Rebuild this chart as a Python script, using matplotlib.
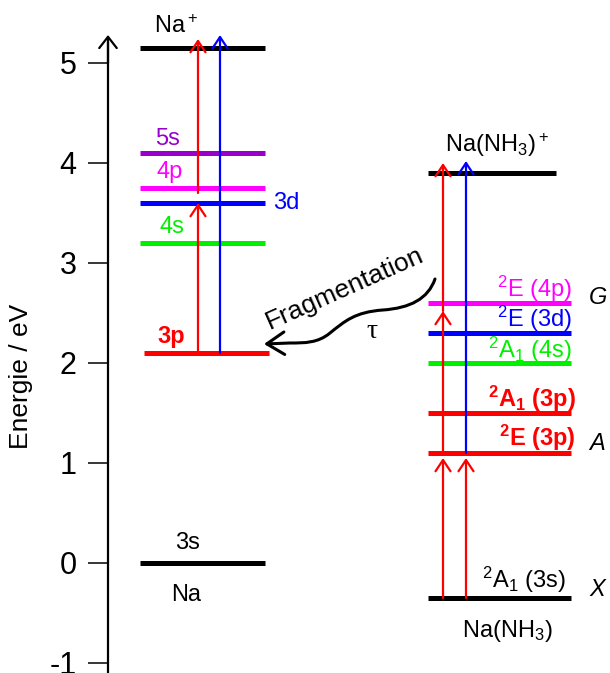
import matplotlib
matplotlib.use("Agg")
import matplotlib.pyplot as plt
from matplotlib.path import Path
from matplotlib.patches import FancyArrowPatch

plt.rcParams['font.family'] = ['Liberation Sans', 'DejaVu Sans']
plt.rcParams['mathtext.fontset'] = 'custom'
plt.rcParams['mathtext.rm'] = 'Liberation Sans'
plt.rcParams['mathtext.it'] = 'Liberation Sans:italic'
plt.rcParams['mathtext.bf'] = 'Liberation Sans:bold'

RED = '#FF0000'
BLUE = '#0000FF'
GREEN = '#00F000'
MAGENTA = '#FF00FF'
PURPLE = '#9900CC'

# Na atom levels (eV)
na_states = ['3s', '3p', '4s', '3d', '4p', '5s', 'Na+']
na_energy = [0.0, 2.10, 3.20, 3.60, 3.75, 4.10, 5.15]
na_colors = ['black', RED, GREEN, BLUE, MAGENTA, PURPLE, 'black']

# Na(NH3) complex levels (eV)
cx_states = ['2A1(3s)', '2E(3p)', '2A1(3p)', '2A1(4s)', '2E(3d)', '2E(4p)', 'Na(NH3)+']
cx_energy = [-0.35, 1.10, 1.50, 2.00, 2.30, 2.60, 3.90]
cx_colors = ['black', RED, RED, GREEN, BLUE, MAGENTA, 'black']

# excitation steps: start / end energy
na_step_from = [2.10, 3.70, 2.10]
na_step_to = [3.60, 5.24, 5.28]
na_step_col = [RED, RED, BLUE]

cx_step_from = [-0.35, -0.35, 1.10, 2.52, 1.10]
cx_step_to = [1.05, 1.05, 2.52, 4.00, 4.02]
cx_step_col = [RED, RED, RED, RED, BLUE]

yticks = [-1, 0, 1, 2, 3, 4, 5]

fig = plt.figure(figsize=(6.10, 6.73), dpi=100)
ax = fig.add_axes([108 / 610, 0, 502 / 610, 1])
ax.set_xlim(108, 610)
ax.set_ylim(-1.10, 5.63)

for s in ['top', 'right', 'bottom']:
    ax.spines[s].set_visible(False)
ax.spines['left'].set_linewidth(1.6)
ax.spines['left'].set_bounds(-1.10, 5.2)
ax.set_xticks([])
ax.set_yticks(yticks)
ax.set_yticklabels([str(t) for t in yticks])
ax.tick_params(axis='y', direction='out', length=14.5, width=1.1, pad=8,
               labelsize=22)
ax.annotate('', xy=(108, 5.28), xytext=(108, 5.0),
            arrowprops=dict(arrowstyle='->,head_length=0.45,head_width=0.35',
                            color='black', lw=1.6, shrinkA=0, shrinkB=0,
                            mutation_scale=18), annotation_clip=False)

ax.set_ylabel('Energie / eV', fontsize=19)
ax.yaxis.set_label_coords(33, 1.87, transform=ax.transData)

# level lines
for name, e, c in zip(na_states, na_energy, na_colors):
    x0, x1 = (144, 269) if name == '3p' else (140, 265)
    ax.plot([x0, x1], [e, e], color=c, lw=3.6, solid_capstyle='butt')
for name, e, c in zip(cx_states, cx_energy, cx_colors):
    x0, x1 = (428, 556) if name == 'Na(NH3)+' else (428, 571)
    ax.plot([x0, x1], [e, e], color=c, lw=3.6, solid_capstyle='butt')


def step(x, e0, e1, col):
    ax.annotate('', xy=(x, e1), xytext=(x, e0),
                arrowprops=dict(arrowstyle='->,head_length=0.45,head_width=0.3',
                                color=col, lw=1.6, shrinkA=0, shrinkB=0,
                                mutation_scale=18))


for x, a, b, c in zip([198, 198, 220], na_step_from, na_step_to, na_step_col):
    step(x, a, b, c)
for x, a, b, c in zip([443, 466, 443, 443, 466], cx_step_from, cx_step_to,
                      cx_step_col):
    step(x, a, b, c)

# Na labels
fs = 17
ax.text(176, 5.30, 'Na$^+$', ha='center', va='baseline', fontsize=fs)
ax.text(168, 4.18, '5s', ha='center', va='baseline', fontsize=fs, color=PURPLE)
ax.text(170, 3.85, '4p', ha='center', va='baseline', fontsize=fs, color=MAGENTA)
ax.text(273, 3.60, '3d', ha='left', va='center', fontsize=fs, color=BLUE)
ax.text(172, 3.30, '4s', ha='center', va='baseline', fontsize=fs, color=GREEN)
ax.text(171, 2.20, '3p', ha='center', va='baseline', fontsize=fs, color=RED,
        fontweight='bold')
ax.text(188, 0.14, '3s', ha='center', va='baseline', fontsize=fs)
ax.text(186, -0.38, 'Na', ha='center', va='baseline', fontsize=fs)

# Na(NH3) labels
ax.text(497, 4.11, 'Na(NH$_3$)$^+$', ha='center', va='baseline', fontsize=fs)
ax.text(572, 2.66, '$^2$E (4p)', ha='right', va='baseline', fontsize=fs,
        color=MAGENTA)
ax.text(572, 2.36, '$^2$E (3d)', ha='right', va='baseline', fontsize=fs,
        color=BLUE)
ax.text(572, 2.05, '$^2$A$_1$ (4s)', ha='right', va='baseline', fontsize=fs,
        color=GREEN)
ax.text(576, 1.56, r'$^\mathbf{2}$A$_\mathbf{1}$ (3p)', ha='right',
        va='baseline', fontsize=fs, color=RED, fontweight='bold')
ax.text(576, 1.17, r'$^\mathbf{2}$E (3p)', ha='right', va='baseline',
        fontsize=fs, color=RED, fontweight='bold')
ax.text(566, -0.25, '$^2$A$_1$ (3s)', ha='right', va='baseline', fontsize=fs)
ax.text(507, -0.74, 'Na(NH$_3$)', ha='center', va='baseline', fontsize=fs)

for lab, e in zip(['G', 'A', 'X'], [2.66, 1.20, -0.27]):
    ax.text(589, e, lab, ha='left', va='center', fontsize=fs, style='italic',
            clip_on=False)

# fragmentation path
ax.text(345, 2.75, 'Fragmentation', ha='center', va='center', fontsize=19,
        rotation=24)
ax.text(372, 2.31, '\u03c4', ha='center', va='center', fontsize=20,
        family='Liberation Serif')
verts = [(435, 2.84), (428, 2.64), (410, 2.55), (383, 2.53),
         (355, 2.51), (345, 2.42), (330, 2.30),
         (318, 2.20), (305, 2.20), (290, 2.20),
         (264, 2.19)]
codes = [Path.MOVETO, Path.CURVE4, Path.CURVE4, Path.CURVE4,
         Path.CURVE4, Path.CURVE4, Path.CURVE4,
         Path.CURVE4, Path.CURVE4, Path.CURVE4,
         Path.LINETO]
frag = FancyArrowPatch(path=Path(verts, codes),
                       arrowstyle='->,head_length=0.7,head_width=0.45',
                       mutation_scale=18, lw=2.2, color='black')
ax.add_patch(frag)

fig.savefig('out.png', dpi=100)
